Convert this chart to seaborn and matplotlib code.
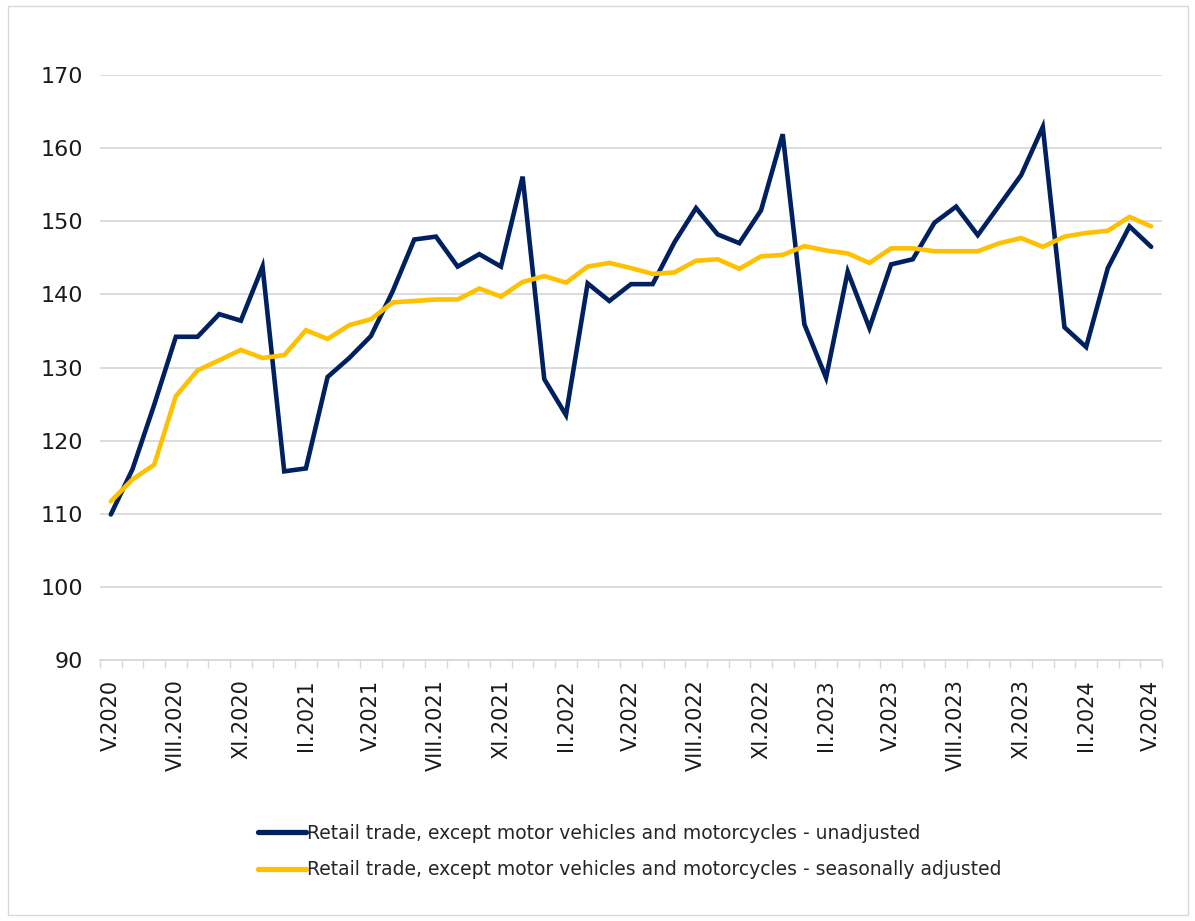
import pandas as pd
import matplotlib
matplotlib.use("Agg")
import matplotlib.pyplot as plt
import seaborn as sns
from matplotlib import font_manager
from matplotlib.patches import Rectangle
from matplotlib.lines import Line2D
from matplotlib.ticker import FixedLocator

roman = ["I", "II", "III", "IV", "V", "VI", "VII", "VIII", "IX", "X", "XI", "XII"]
months = [f"{roman[(4 + i) % 12]}.{2020 + (4 + i) // 12}" for i in range(49)]

unadjusted = [109.9, 116.1, 124.9, 134.2, 134.2, 137.3, 136.4, 143.8, 115.8, 116.2,
              128.7, 131.3, 134.3, 140.4, 147.5, 147.9, 143.8, 145.5, 143.8, 156.1,
              128.4, 123.5, 141.5, 139.1, 141.4, 141.4, 147.1, 151.8, 148.2, 147.0,
              151.5, 161.9, 135.9, 128.6, 143.1, 135.4, 144.1, 144.8, 149.8, 152.0,
              148.1, 152.2, 156.3, 162.9, 135.5, 132.8, 143.6, 149.3, 146.5]
adjusted = [111.7, 114.7, 116.7, 126.1, 129.6, 131.0, 132.4, 131.3, 131.7, 135.1,
            133.9, 135.8, 136.6, 138.9, 139.1, 139.3, 139.3, 140.8, 139.7, 141.7,
            142.5, 141.6, 143.8, 144.3, 143.6, 142.8, 143.0, 144.6, 144.8, 143.5,
            145.2, 145.4, 146.6, 146.0, 145.6, 144.3, 146.3, 146.3, 145.9, 145.9,
            145.9, 147.0, 147.7, 146.5, 147.9, 148.4, 148.7, 150.6, 149.3]

series_names = ["Retail trade, except motor vehicles and motorcycles - unadjusted",
                "Retail trade, except motor vehicles and motorcycles - seasonally adjusted"]
colors = ["#002060", "#FFC000"]

df = pd.DataFrame({
    "idx": list(range(len(months))) * 2,
    "value": unadjusted + adjusted,
    "series": [series_names[0]] * len(months) + [series_names[1]] * len(months),
})

sns.set_theme(style="white")
plt.rcParams["font.family"] = ["DejaVu Sans"]

# narrow font for the legend if there is one
names = {f.name for f in font_manager.fontManager.ttflist}
if "Liberation Sans Narrow" in names:
    legend_font = dict(family="Liberation Sans Narrow", size=17.6)
else:
    legend_font = dict(family="DejaVu Sans", size=13.5)

fig = plt.figure(figsize=(11.95, 9.21), dpi=100)
ax = fig.add_axes([100 / 1195, 1 - 660 / 921, 1062 / 1195, 585 / 921])

sns.lineplot(data=df, x="idx", y="value", hue="series", palette=colors,
             linewidth=3.3, ax=ax, legend=False, sort=False)
for line in ax.lines:
    line.set_solid_joinstyle("miter")

ax.set_xlim(-0.5, len(months) - 0.5)
ax.set_ylim(90, 170)
ax.set_yticks(range(90, 171, 10))
ax.set_xticks(range(0, len(months), 3))
ax.set_xticklabels(months[::3], rotation=90, fontsize=15, color="#1a1a1a")
ax.xaxis.set_minor_locator(FixedLocator([i - 0.5 for i in range(len(months) + 1)]))
ax.tick_params(axis="x", which="major", length=0, pad=14)
ax.tick_params(axis="x", which="minor", length=6, width=1, color="#d9d9d9", bottom=True)
ax.tick_params(axis="y", length=0, pad=12, labelsize=16, labelcolor="#1a1a1a")
ax.set_xlabel("")
ax.set_ylabel("")

ax.grid(axis="y", color="#d9d9d9", linewidth=1.3)
ax.grid(axis="x", visible=False)
for s in ["top", "right", "left"]:
    ax.spines[s].set_visible(False)
ax.spines["bottom"].set_color("#d9d9d9")
ax.spines["bottom"].set_linewidth(1.3)

handles = [Line2D([], [], color=c, linewidth=3.8) for c in colors]
fig.legend(handles, series_names, loc="center", bbox_to_anchor=(0.527, 0.0755),
           frameon=False, prop=legend_font, handlelength=2.6, handletextpad=0.05,
           labelspacing=0.95)

fig.patches.append(Rectangle((8 / 1195, 6 / 921), 1180 / 1195, 909 / 921,
                             transform=fig.transFigure, fill=False,
                             edgecolor="#d9d9d9", linewidth=1))

fig.savefig("out.png", dpi=100)
